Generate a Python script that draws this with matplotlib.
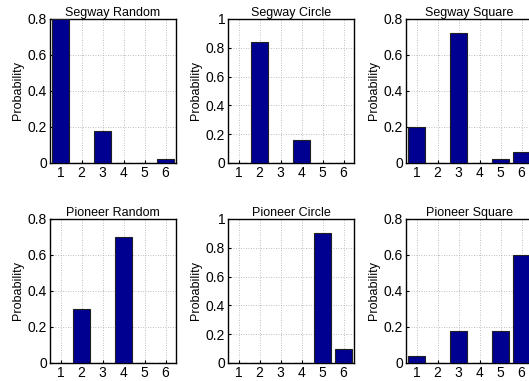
import numpy as np
import matplotlib.pyplot as plt

plt.rcParams['font.family'] = ['Liberation Sans', 'DejaVu Sans']

states = [1, 2, 3, 4, 5, 6]
titles = ['Segway Random', 'Segway Circle', 'Segway Square',
          'Pioneer Random', 'Pioneer Circle', 'Pioneer Square']
segway_random = [0.80, 0.0, 0.18, 0.0, 0.0, 0.02]
segway_circle = [0.0, 0.84, 0.0, 0.16, 0.0, 0.0]
segway_square = [0.20, 0.0, 0.72, 0.0, 0.02, 0.06]
pioneer_random = [0.0, 0.30, 0.0, 0.70, 0.0, 0.0]
pioneer_circle = [0.0, 0.0, 0.0, 0.0, 0.90, 0.10]
pioneer_square = [0.04, 0.0, 0.18, 0.0, 0.18, 0.60]
ymaxes = [0.8, 1.0, 0.8, 0.8, 1.0, 0.8]

data = [segway_random, segway_circle, segway_square,
        pioneer_random, pioneer_circle, pioneer_square]

W, H = 529, 381
fig = plt.figure(figsize=(W / 100, H / 100), dpi=100)

lefts = [50, 228, 406]
width = 126
tops = [19, 219]
height = 144

for i, (vals, title, ymax) in enumerate(zip(data, titles, ymaxes)):
    r, c = divmod(i, 3)
    ax = fig.add_axes([lefts[c] / W, 1 - (tops[r] + height) / H, width / W, height / H])
    ax.bar(states, vals, width=0.8, color='#000090', edgecolor='#202020', linewidth=0.8, zorder=3)
    ax.set_xlim(0.5, 6.5)
    ax.set_ylim(0, ymax)
    ax.set_xticks(states)
    if ymax == 1.0:
        ax.set_yticks([0, 0.2, 0.4, 0.6, 0.8, 1])
        ax.set_yticklabels(['0', '0.2', '0.4', '0.6', '0.8', '1'])
    else:
        ax.set_yticks([0, 0.2, 0.4, 0.6, 0.8])
        ax.set_yticklabels(['0', '0.2', '0.4', '0.6', '0.8'])
    ax.grid(True, linestyle=(0, (1, 2)), color='#a8a8a8', linewidth=0.6, zorder=0)
    ax.tick_params(direction='in', labelsize=10, length=2, pad=2)
    ax.set_title(title, fontsize=9, pad=2)
    ax.set_ylabel('Probability', fontsize=9, labelpad=3)
    for s in ax.spines.values():
        s.set_linewidth(1.0)

fig.savefig('out.png', dpi=100)
